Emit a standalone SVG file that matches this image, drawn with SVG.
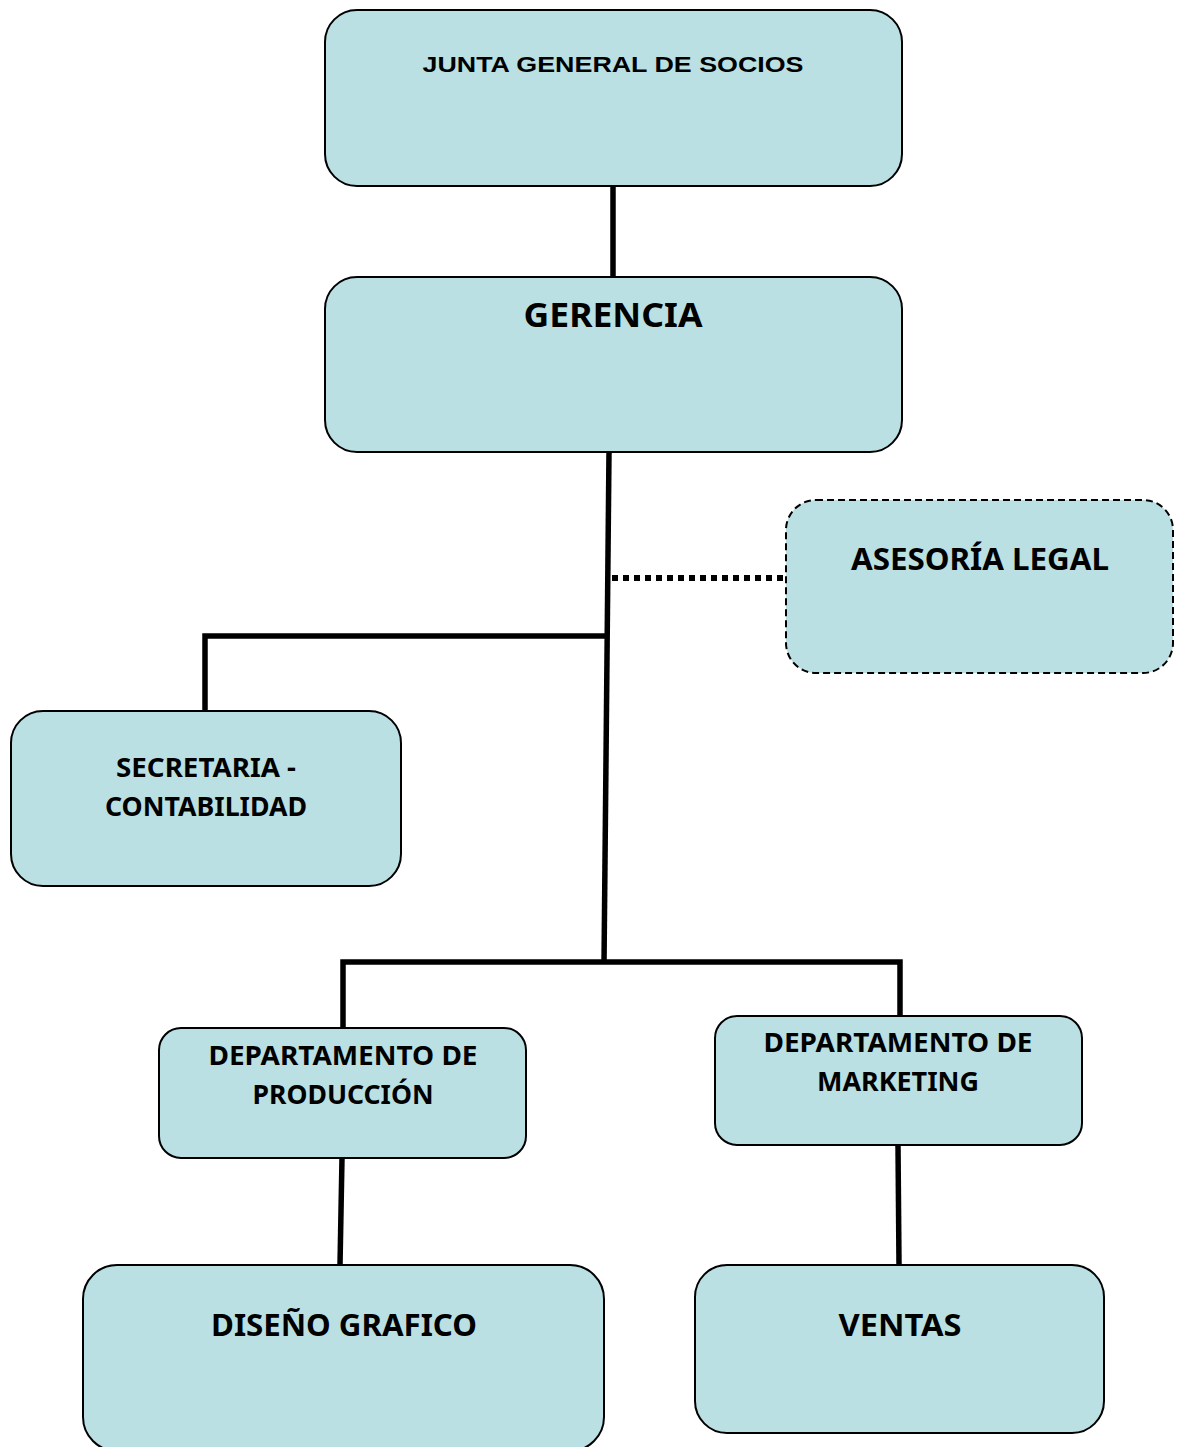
<svg xmlns="http://www.w3.org/2000/svg" width="1183" height="1447" viewBox="0 0 1183 1447">
<style>
.box{fill:#bae0e3;stroke:#000;stroke-width:2}
.dash{stroke-dasharray:7,4}
.t{font-family:"Noto Sans","Open Sans",sans-serif;font-weight:bold;fill:#000;text-anchor:middle}
.a{font-family:"Liberation Sans",Arial,sans-serif;font-weight:bold;fill:#000;text-anchor:middle}
.c{stroke:#000;stroke-width:5.5;fill:none}
</style>
<rect width="1183" height="1447" fill="#fff"/>
<g id="connectors">
<line class="c" x1="613" y1="186" x2="613" y2="277"/>
<line class="c" x1="609" y1="452" x2="604" y2="964"/>
<polyline class="c" points="607,636 205,636 205,711"/>
<line x1="612" y1="578" x2="790" y2="578" stroke="#000" stroke-width="6" stroke-dasharray="6,5"/>
<polyline class="c" points="343,1028 343,962 900,962 900,1016"/>
<line class="c" x1="342" y1="1158" x2="340" y2="1265"/>
<line class="c" x1="898" y1="1145" x2="899" y2="1265"/>
</g>
<g id="junta"><rect class="box" x="325" y="10" width="577" height="176" rx="32"/><text class="a" x="613" y="72" font-size="22" textLength="381" lengthAdjust="spacingAndGlyphs">JUNTA GENERAL DE SOCIOS</text></g>
<g id="gerencia"><rect class="box" x="325" y="277" width="577" height="175" rx="32"/><text class="t" x="613" y="327" font-size="34" textLength="179" lengthAdjust="spacingAndGlyphs">GERENCIA</text></g>
<g id="asesoria"><rect class="box dash" x="786" y="500" width="387" height="173" rx="30"/><text class="t" x="980" y="570" font-size="31" textLength="258" lengthAdjust="spacingAndGlyphs">ASESORÍA LEGAL</text></g>
<g id="secretaria"><rect class="box" x="11" y="711" width="390" height="175" rx="32"/><text class="t" x="206" y="777" font-size="26" textLength="180" lengthAdjust="spacingAndGlyphs">SECRETARIA -</text><text class="t" x="206" y="816" font-size="26" textLength="202" lengthAdjust="spacingAndGlyphs">CONTABILIDAD</text></g>
<g id="produccion"><rect class="box" x="159" y="1028" width="367" height="130" rx="22"/><text class="t" x="343" y="1065" font-size="26" textLength="269" lengthAdjust="spacingAndGlyphs">DEPARTAMENTO DE</text><text class="t" x="343" y="1104" font-size="26" textLength="181" lengthAdjust="spacingAndGlyphs">PRODUCCIÓN</text></g>
<g id="marketing"><rect class="box" x="715" y="1016" width="367" height="129" rx="22"/><text class="t" x="898" y="1052" font-size="26" textLength="269" lengthAdjust="spacingAndGlyphs">DEPARTAMENTO DE</text><text class="t" x="898" y="1091" font-size="26" textLength="162" lengthAdjust="spacingAndGlyphs">MARKETING</text></g>
<g id="diseno"><rect class="box" x="83" y="1265" width="521" height="186" rx="34"/><text class="t" x="344" y="1336" font-size="31" textLength="266" lengthAdjust="spacingAndGlyphs">DISEÑO GRAFICO</text></g>
<g id="ventas"><rect class="box" x="695" y="1265" width="409" height="168" rx="32"/><text class="t" x="900" y="1336" font-size="31" textLength="123" lengthAdjust="spacingAndGlyphs">VENTAS</text></g>
</svg>
